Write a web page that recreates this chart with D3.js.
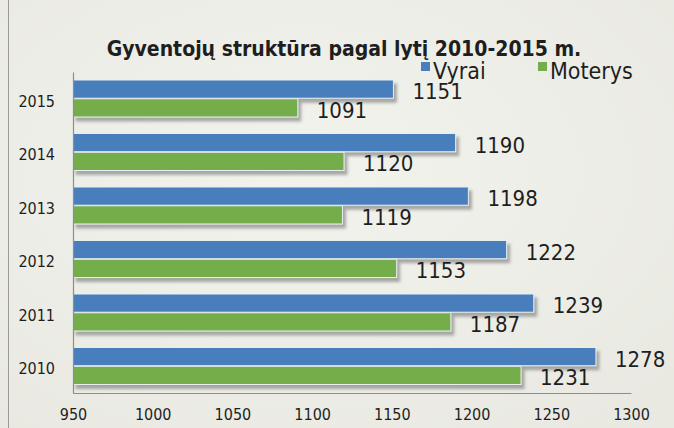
<!DOCTYPE html>
<html>
<head>
<meta charset="utf-8">
<script src="https://cdn.jsdelivr.net/npm/d3@7"></script>
<style>
  html, body { margin: 0; padding: 0; background: #efefe9; }
  svg { display: block; }
  text { font-family: "DejaVu Sans Condensed", "DejaVu Sans", sans-serif; font-stretch: condensed; fill: #1e1e1e; }
</style>
</head>
<body>
<svg id="chart" width="674" height="428"></svg>
<script>
// Population by sex, 2010–2015
const years = ["2015", "2014", "2013", "2012", "2011", "2010"];
const series = ["Vyrai", "Moterys"];
const vyrai = [1151, 1190, 1198, 1222, 1239, 1278];
const moterys = [1091, 1120, 1119, 1153, 1187, 1231];
const xTicks = [950, 1000, 1050, 1100, 1150, 1200, 1250, 1300];
const colors = ["#4a7ebd", "#74ad4b"];
const title = "Gyventojų struktūra pagal lytį 2010-2015 m.";

const svg = d3.select("#chart");

// soft paper-like background
const defs = svg.append("defs");
const grad = defs.append("radialGradient").attr("id", "bg").attr("cx", "45%").attr("cy", "40%").attr("r", "75%");
grad.append("stop").attr("offset", "0%").attr("stop-color", "#f3f3ee");
grad.append("stop").attr("offset", "100%").attr("stop-color", "#e9e9e2");
svg.append("rect").attr("width", 674).attr("height", 428).attr("fill", "url(#bg)");

const shadow = defs.append("filter").attr("id", "shadow")
  .attr("x", "-5%").attr("y", "-30%").attr("width", "115%").attr("height", "190%");
shadow.append("feDropShadow").attr("dx", 3).attr("dy", 4).attr("stdDeviation", 1.6)
  .attr("flood-color", "#6a6a6a").attr("flood-opacity", 0.55);

// thin frame line on the left
svg.append("line").attr("x1", 8.5).attr("x2", 8.5).attr("y1", 0).attr("y2", 428)
  .attr("stroke", "#9a9a96").attr("stroke-width", 1);

const plotLeft = 73, plotRight = 631, plotTop = 72, plotBottom = 393;

const x = d3.scaleLinear().domain([950, 1300]).range([plotLeft, plotRight]);
const y = d3.scaleBand().domain(years).range([plotTop, plotBottom]);
const ySub = d3.scaleBand().domain(series).range([8, 45]).paddingInner(0.03);

const rows = years.map((yr, i) => ({ year: yr, values: [vyrai[i], moterys[i]] }));

// bars
const groups = svg.append("g").selectAll("g").data(rows).join("g")
  .attr("transform", d => `translate(0,${y(d.year)})`);

groups.selectAll("rect").data(d => d.values.map((v, k) => ({ v, k })))
  .join("rect")
  .attr("x", x(950))
  .attr("y", d => ySub(series[d.k]))
  .attr("width", d => x(d.v) - x(950))
  .attr("height", ySub.bandwidth())
  .attr("fill", d => colors[d.k])
  .attr("stroke", "#e6eef0")
  .attr("stroke-width", 1)
  .attr("filter", "url(#shadow)");

// value labels
groups.selectAll("text.val").data(d => d.values.map((v, k) => ({ v, k })))
  .join("text")
  .attr("class", "val")
  .attr("x", d => x(d.v) + 19)
  .attr("y", d => ySub(series[d.k]) + ySub.bandwidth() / 2 + 10)
  .attr("font-size", 22)
  .text(d => d.v);

// axes
const xAxis = d3.axisBottom(x).tickValues(xTicks).tickSize(0).tickPadding(16).tickFormat(d3.format("d"));
const gx = svg.append("g").attr("transform", `translate(0,${plotBottom})`).call(xAxis);
gx.select(".domain").attr("stroke", "#8e8e8e").attr("stroke-width", 1.2);
gx.selectAll("text").attr("font-size", 16).attr("fill", "#1e1e1e");

const yAxis = d3.axisLeft(y).tickSize(0).tickPadding(18);
const gy = svg.append("g").attr("transform", `translate(${plotLeft},0)`).call(yAxis);
gy.select(".domain").attr("stroke", "#8e8e8e").attr("stroke-width", 1.2);
gy.selectAll("text").attr("font-size", 16).attr("fill", "#1e1e1e").attr("dy", "0.5em");

// title
svg.append("text").attr("x", 344).attr("y", 56).attr("text-anchor", "middle")
  .attr("font-size", 21).attr("font-weight", "bold").text(title);

// legend
const legendX = [421, 538];
const leg = svg.append("g").selectAll("g").data(series).join("g")
  .attr("transform", (d, i) => `translate(${legendX[i]},0)`);
leg.append("rect").attr("x", 0).attr("y", 62).attr("width", 9).attr("height", 9)
  .attr("fill", (d, i) => colors[i]);
leg.append("text").attr("x", 12).attr("y", 79).attr("font-size", 23).text(d => d);
</script>
</body>
</html>
